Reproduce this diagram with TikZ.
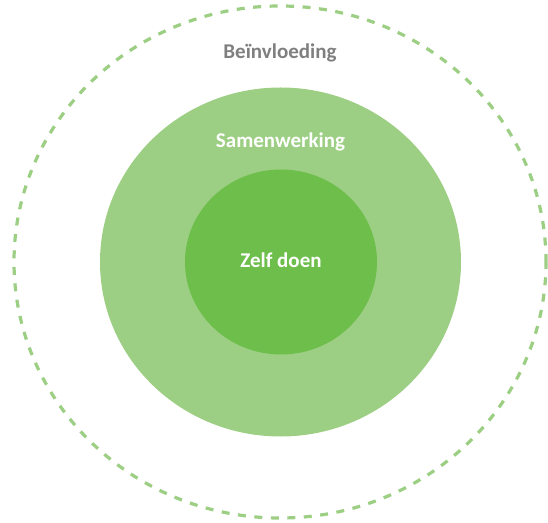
\documentclass[tikz,border=0pt]{standalone}
\usepackage{fontspec}
\setmainfont{Carlito}
\usepackage{xcolor}
\usetikzlibrary{shapes.geometric, positioning}

\definecolor{lichtgroen}{RGB}{156,207,131}
\definecolor{donkergroen}{RGB}{109,190,75}
\definecolor{labelgrijs}{RGB}{127,127,127}

\begin{document}
\begin{tikzpicture}[
		x=1pt, y=1pt,
		ring/.style={ellipse, inner sep=0pt, outer sep=0pt},
		invloedring/.style={ring, draw=lichtgroen, line width=3.2pt, dash pattern=on 8pt off 8.5pt},
		samenring/.style={ring, fill=lichtgroen},
		zelfring/.style={ring, fill=donkergroen},
		ringtekst/.style={font=\fontsize{21}{21}\selectfont\bfseries, inner sep=0pt}
		]
		
		\useasboundingbox (0,0) rectangle (548,522);
		
		% ==========================================
		% RINGS
		% ==========================================
		\node[invloedring, minimum width=532pt, minimum height=512pt] (invloed) at (280,260) {};
		\node[samenring, minimum width=361pt, minimum height=349pt] (samen) at (280.5,260) {};
		\node[zelfring, minimum width=192pt, minimum height=185pt] (zelf) at (281,260) {};
		
		% ==========================================
		% LABELS
		% ==========================================
		\node[ringtekst, text=labelgrijs, below=38pt of invloed.north] (invloedlabel) {Beïnvloeding};
		\node[ringtekst, text=white, below=45pt of samen.north] (samenlabel) {Samenwerking};
		\node[ringtekst, text=white, yshift=2pt] (zelflabel) at (zelf.center) {Zelf doen};
		
	\end{tikzpicture}
\end{document}
